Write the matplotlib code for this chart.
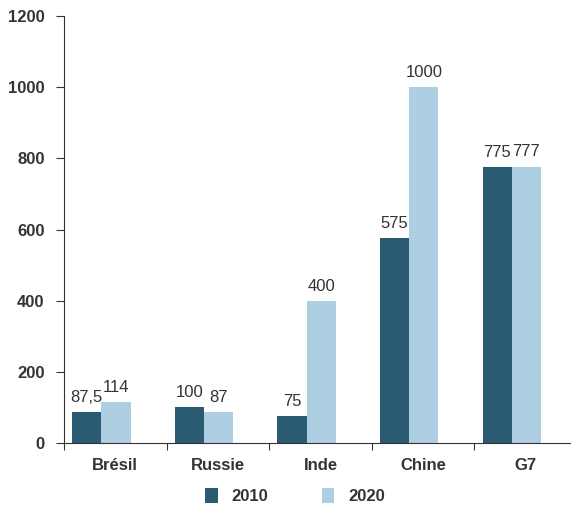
import matplotlib.pyplot as plt
import numpy as np

plt.rcParams['font.family'] = ['Liberation Sans', 'DejaVu Sans']

pays = ['Brésil', 'Russie', 'Inde', 'Chine', 'G7']
valeurs_2010 = [87.5, 100, 75, 575, 775]
valeurs_2020 = [114, 87, 400, 1000, 777]
etiquettes_2010 = ['87,5', '100', '75', '575', '775']
etiquettes_2020 = ['114', '87', '400', '1000', '777']

fonce = '#2b5a73'
clair = '#aecfe2'
texte = '#333333'

fig = plt.figure(figsize=(5.71, 5.09), dpi=100)
ax = fig.add_axes([64 / 571, 66 / 509, 513 / 571, 427 / 509])

x = np.arange(len(pays))
largeur = 0.285
debut = 0.08
b1 = ax.bar(x + debut, valeurs_2010, largeur, align='edge', color=fonce, label='2010')
b2 = ax.bar(x + debut + largeur, valeurs_2020, largeur, align='edge', color=clair, label='2020')

for barres, etiquettes in ((b1, etiquettes_2010), (b2, etiquettes_2020)):
    for b, t in zip(barres, etiquettes):
        ax.text(b.get_x() + b.get_width() / 2, b.get_height() + 20, t,
                ha='center', va='bottom', fontsize=12, color=texte)

ax.set_xlim(0, 5)
ax.set_ylim(0, 1200)
ax.set_yticks(range(0, 1201, 200))
ax.set_xticks(range(0, 6))
ax.set_xticklabels([])
ax.set_xticks(x + 0.5, minor=True)
ax.set_xticklabels(pays, minor=True, fontsize=12, fontweight='bold', color=texte)
ax.tick_params(axis='x', which='minor', length=0, pad=11)
ax.tick_params(axis='x', which='major', length=5, direction='out', color='#333333')
ax.tick_params(axis='y', length=6, direction='out', color='#333333', pad=8,
               labelsize=12, labelcolor=texte)
for lab in ax.get_yticklabels():
    lab.set_fontweight('bold')

ax.spines['top'].set_visible(False)
ax.spines['right'].set_visible(False)
ax.spines['left'].set_color('#333333')
ax.spines['bottom'].set_color('#333333')

leg = fig.legend(handles=[b1, b2], labels=['2010', '2020'], loc='center',
                 bbox_to_anchor=(0.517, 0.025), ncol=2, frameon=False,
                 handlelength=0.75, handleheight=0.95, columnspacing=3.2,
                 handletextpad=0.85, prop={'weight': 'bold', 'size': 12})
for t in leg.get_texts():
    t.set_color(texte)

fig.savefig('out.png', dpi=100)
